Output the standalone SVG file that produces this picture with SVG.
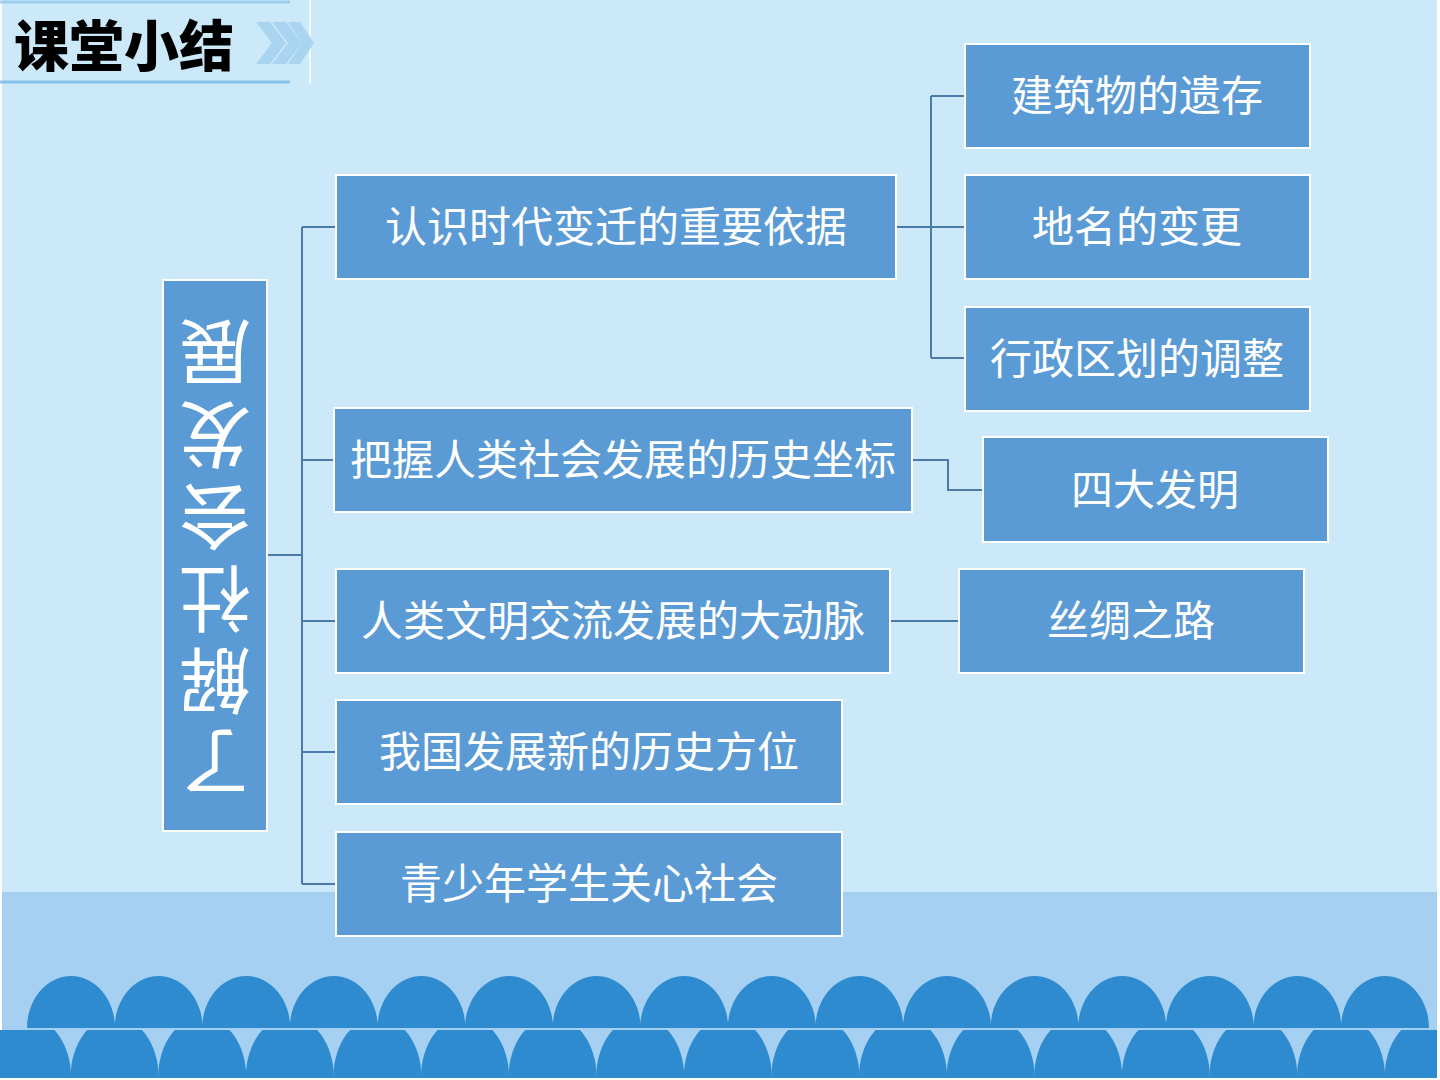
<svg xmlns="http://www.w3.org/2000/svg" width="1440" height="1080" viewBox="0 0 1440 1080">
<defs>
<style>
.box{fill:#5b9bd5;stroke:#ffffff;stroke-width:2}
.lbl{font-family:"Noto Sans CJK SC","Noto Sans",sans-serif;font-size:42px;fill:#ffffff;text-anchor:middle}
.conn{fill:none;stroke:#4a79aa;stroke-width:2}
.arch{fill:#2e8bcf}
</style>
<clipPath id="lowclip"><rect x="0" y="1030" width="1437" height="48"/></clipPath>
</defs>
<rect x="0" y="0" width="1440" height="1080" fill="#ffffff"/>
<rect x="2" y="0" width="1435" height="1078" fill="#cce9f9"/>
<rect x="2" y="892" width="1435" height="186" fill="#a6d0f1"/>

<g id="scallops">
<g clip-path="url(#lowclip)">
<ellipse class="arch" cx="27" cy="1077" rx="44" ry="60"/>
<ellipse class="arch" cx="114.6" cy="1077" rx="44" ry="60"/>
<ellipse class="arch" cx="202.2" cy="1077" rx="44" ry="60"/>
<ellipse class="arch" cx="289.8" cy="1077" rx="44" ry="60"/>
<ellipse class="arch" cx="377.4" cy="1077" rx="44" ry="60"/>
<ellipse class="arch" cx="465" cy="1077" rx="44" ry="60"/>
<ellipse class="arch" cx="552.6" cy="1077" rx="44" ry="60"/>
<ellipse class="arch" cx="640.2" cy="1077" rx="44" ry="60"/>
<ellipse class="arch" cx="727.8" cy="1077" rx="44" ry="60"/>
<ellipse class="arch" cx="815.4" cy="1077" rx="44" ry="60"/>
<ellipse class="arch" cx="903" cy="1077" rx="44" ry="60"/>
<ellipse class="arch" cx="990.6" cy="1077" rx="44" ry="60"/>
<ellipse class="arch" cx="1078.2" cy="1077" rx="44" ry="60"/>
<ellipse class="arch" cx="1165.8" cy="1077" rx="44" ry="60"/>
<ellipse class="arch" cx="1253.4" cy="1077" rx="44" ry="60"/>
<ellipse class="arch" cx="1341" cy="1077" rx="44" ry="60"/>
<ellipse class="arch" cx="1428.6" cy="1077" rx="44" ry="60"/>
</g>
<path class="arch" d="M27,1028 A44,52 0 0 1 115,1028 Z M114.6,1028 A44,52 0 0 1 202.6,1028 Z M202.2,1028 A44,52 0 0 1 290.2,1028 Z M289.8,1028 A44,52 0 0 1 377.8,1028 Z M377.4,1028 A44,52 0 0 1 465.4,1028 Z M465,1028 A44,52 0 0 1 553,1028 Z M552.6,1028 A44,52 0 0 1 640.6,1028 Z M640.2,1028 A44,52 0 0 1 728.2,1028 Z M727.8,1028 A44,52 0 0 1 815.8,1028 Z M815.4,1028 A44,52 0 0 1 903.4,1028 Z M903,1028 A44,52 0 0 1 991,1028 Z M990.6,1028 A44,52 0 0 1 1078.6,1028 Z M1078.2,1028 A44,52 0 0 1 1166.2,1028 Z M1165.8,1028 A44,52 0 0 1 1253.8,1028 Z M1253.4,1028 A44,52 0 0 1 1341.4,1028 Z M1341,1028 A44,52 0 0 1 1429,1028 Z"/>
</g>

<g id="title">
<line x1="0" y1="2" x2="290" y2="2" stroke="#9ccfee" stroke-width="3"/>
<line x1="0" y1="82" x2="290" y2="82" stroke="#86c3e8" stroke-width="3"/>
<line x1="310" y1="0" x2="310" y2="84" stroke="#f0f8fd" stroke-width="2"/>
<g fill="#a9d5f0">
<polygon points="256,22 270,22 286,43 270,64 256,64 272,43"/>
<polygon points="272,22 286,22 302,43 286,64 272,64 288,43"/>
<polygon points="288,22 300,22 314,43 300,64 288,64 302,43"/>
</g>
<text x="14" y="66" font-family="'Noto Sans CJK SC','Noto Sans',sans-serif" font-size="55" font-weight="900" fill="#000000">课堂小结</text>
</g>

<g id="connectors">
<polyline class="conn" points="267,555 302,555"/>
<line class="conn" x1="302" y1="227" x2="302" y2="884"/>
<line class="conn" x1="302" y1="227" x2="336" y2="227"/>
<line class="conn" x1="302" y1="460" x2="334" y2="460"/>
<line class="conn" x1="302" y1="621" x2="336" y2="621"/>
<line class="conn" x1="302" y1="752" x2="336" y2="752"/>
<line class="conn" x1="302" y1="884" x2="336" y2="884"/>
<line class="conn" x1="896" y1="227" x2="965" y2="227"/>
<line class="conn" x1="931" y1="96" x2="931" y2="358"/>
<line class="conn" x1="931" y1="96" x2="965" y2="96"/>
<line class="conn" x1="931" y1="358" x2="965" y2="358"/>
<polyline class="conn" points="912,460 948,460 948,490 983,490"/>
<line class="conn" x1="890" y1="621" x2="959" y2="621"/>
</g>

<g id="root">
<rect class="box" x="163" y="280" width="104" height="551"/>
<text x="215" y="559" transform="rotate(180 215 556)" font-family="'Noto Sans CJK SC','Noto Sans',sans-serif" font-size="72" fill="#ffffff" text-anchor="middle" style="writing-mode:vertical-rl;letter-spacing:10px">了解社会发展</text>
</g>

<g id="n1"><rect class="box" x="336" y="175" width="560" height="104"/><text class="lbl" x="616" y="242">认识时代变迁的重要依据</text></g>
<g id="n2"><rect class="box" x="334" y="408" width="578" height="104"/><text class="lbl" x="623" y="475">把握人类社会发展的历史坐标</text></g>
<g id="n3"><rect class="box" x="336" y="569" width="554" height="104"/><text class="lbl" x="613" y="636">人类文明交流发展的大动脉</text></g>
<g id="n4"><rect class="box" x="336" y="700" width="506" height="104"/><text class="lbl" x="589" y="767">我国发展新的历史方位</text></g>
<g id="n5"><rect class="box" x="336" y="832" width="506" height="104"/><text class="lbl" x="589" y="899">青少年学生关心社会</text></g>

<g id="n1a"><rect class="box" x="965" y="44" width="345" height="104"/><text class="lbl" x="1137" y="111">建筑物的遗存</text></g>
<g id="n1b"><rect class="box" x="965" y="175" width="345" height="104"/><text class="lbl" x="1137" y="242">地名的变更</text></g>
<g id="n1c"><rect class="box" x="965" y="307" width="345" height="104"/><text class="lbl" x="1137" y="374">行政区划的调整</text></g>
<g id="n2a"><rect class="box" x="983" y="437" width="345" height="105"/><text class="lbl" x="1155" y="505">四大发明</text></g>
<g id="n3a"><rect class="box" x="959" y="569" width="345" height="104"/><text class="lbl" x="1131" y="636">丝绸之路</text></g>
</svg>
